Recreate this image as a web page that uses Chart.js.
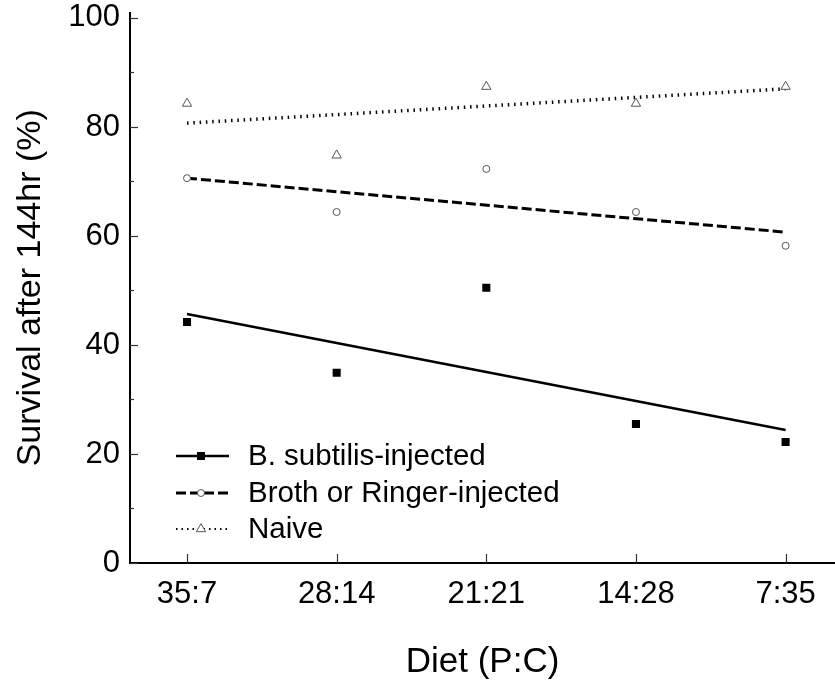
<!DOCTYPE html>
<html><head><meta charset="utf-8">
<script src="https://cdn.jsdelivr.net/npm/chart.js@4/dist/chart.umd.min.js"></script>
<style>html,body{margin:0;padding:0;background:#fff}#wrap{width:835px;height:686px}</style>
</head><body><div id="wrap"><canvas id="c" width="835" height="686"></canvas></div>
<script>
const categories = ['35:7', '28:14', '21:21', '14:28', '7:35'];
const seriesNames = ['B. subtilis-injected', 'Broth or Ringer-injected', 'Naive'];
const subtilis = [44.2, 34.9, 50.5, 25.5, 22.2];
const broth = [70.6, 64.4, 72.3, 64.4, 58.2];
const naive = [84.3, 74.8, 87.4, 84.3, 87.4];
const subtilisFit = [45.7, 24.4];
const brothFit = [70.6, 60.7];
const naiveFit = [80.7, 87.0];
const yTicks = [0, 20, 40, 60, 80, 100];
const yMinorTicks = [10, 30, 50, 70, 90];

const FONT = '"Liberation Sans", Arial, Helvetica, sans-serif';
const pts = arr => arr.map((v, i) => ({x: i + 1, y: v}));
const fit = arr => [{x: 1, y: arr[0]}, {x: categories.length, y: arr[1]}];

const markerStyles = [
  {pointStyle: 'rect', radius: 5.7, fill: '#000', stroke: '#000', bw: 0},
  {pointStyle: 'circle', radius: 3.5, fill: '#fff', stroke: '#555', bw: 1},
  {pointStyle: 'triangle', radius: 5.4, fill: '#fff', stroke: '#555', bw: 1}
];
const lineStyles = [
  {width: 2.5, dash: []},
  {width: 3, dash: [10, 4]},
  {width: 3.5, dash: [1.5, 4.8]}
];
const pointSeries = [subtilis, broth, naive];
const fitSeries = [subtilisFit, brothFit, naiveFit];

const datasets = [];
pointSeries.forEach((s, i) => {
  const m = markerStyles[i];
  datasets.push({
    type: 'scatter', label: seriesNames[i], data: pts(s), showLine: false,
    pointStyle: m.pointStyle, pointRadius: m.radius, pointBackgroundColor: m.fill,
    pointBorderColor: m.stroke, pointBorderWidth: m.bw, pointHoverRadius: m.radius
  });
});
fitSeries.forEach((f, i) => {
  const l = lineStyles[i];
  datasets.push({
    type: 'line', label: seriesNames[i] + ' fit', data: fit(f),
    borderColor: '#000', borderWidth: l.width, borderDash: l.dash, borderCapStyle: 'butt',
    pointRadius: 0, fill: false, tension: 0
  });
});

const tickPlugin = {
  id: 'inwardTicks',
  afterDraw(chart) {
    const ctx = chart.ctx, xs = chart.scales.x, ys = chart.scales.y;
    const ca = chart.chartArea;
    ctx.save();
    ctx.strokeStyle = '#333';
    ctx.lineWidth = 1.2;
    yTicks.forEach(v => {
      const y = Math.round(ys.getPixelForValue(v)) + 0.5;
      ctx.beginPath(); ctx.moveTo(ca.left, y); ctx.lineTo(ca.left + 8, y); ctx.stroke();
    });
    yMinorTicks.forEach(v => {
      const y = Math.round(ys.getPixelForValue(v)) + 0.5;
      ctx.beginPath(); ctx.moveTo(ca.left, y); ctx.lineTo(ca.left + 4, y); ctx.stroke();
    });
    categories.forEach((c, i) => {
      const x = Math.round(xs.getPixelForValue(i + 1)) + 0.5;
      ctx.beginPath(); ctx.moveTo(x, ca.bottom); ctx.lineTo(x, ca.bottom - 9); ctx.stroke();
    });
    ctx.restore();
  }
};

const legendPlugin = {
  id: 'lineLegend',
  afterDraw(chart) {
    const ctx = chart.ctx, ca = chart.chartArea;
    const x0 = ca.left + 46, x1 = ca.left + 99, mx = ca.left + 71, tx = ca.left + 118;
    const rowsY = [ca.bottom - 107, ca.bottom - 70, ca.bottom - 34];
    seriesNames.forEach((name, i) => {
      const y = rowsY[i], l = lineStyles[i], m = markerStyles[i];
      ctx.save();
      ctx.strokeStyle = '#000';
      ctx.lineWidth = i === 2 ? 2 : l.width;
      ctx.setLineDash(i === 2 ? [1.5, 4] : l.dash);
      ctx.beginPath(); ctx.moveTo(x0, y); ctx.lineTo(x1, y); ctx.stroke();
      ctx.setLineDash([]);
      ctx.fillStyle = m.fill; ctx.strokeStyle = m.stroke; ctx.lineWidth = m.bw;
      Chart.helpers.drawPoint(ctx, {pointStyle: m.pointStyle, radius: m.radius, borderWidth: m.bw, rotation: 0}, mx, y);
      ctx.fillStyle = '#000';
      ctx.font = '29.5px ' + FONT;
      ctx.textAlign = 'left'; ctx.textBaseline = 'middle';
      ctx.fillText(name, tx, y + 1);
      ctx.restore();
    });
  }
};

const zeroPad = s => { s.paddingLeft = 0; s.paddingRight = 0; s.paddingTop = 0; s.paddingBottom = 0; };

new Chart(document.getElementById('c'), {
  data: {datasets},
  options: {
    responsive: false, animation: false, devicePixelRatio: 1,
    layout: {autoPadding: false, padding: {top: 12.5, left: 0, right: 0, bottom: 0}},
    plugins: {legend: {display: false}, tooltip: {enabled: false}},
    scales: {
      x: {
        type: 'linear', position: 'bottom', min: 0.619, max: 5.33,
        afterBuildTicks: s => { s.ticks = categories.map((c, i) => ({value: i + 1})); },
        afterFit: s => { s.height = 123; zeroPad(s); },
        ticks: {
          callback: v => categories[Math.round(v) - 1], autoSkip: false, maxRotation: 0,
          color: '#000', padding: 16, font: {family: FONT, size: 31, lineHeight: 1}
        },
        grid: {display: false, drawTicks: false},
        border: {display: true, color: '#000', width: 2},
        title: {display: true, text: 'Diet (P:C)', color: '#000', font: {family: FONT, size: 35}, padding: {top: 0, bottom: 3}}
      },
      y: {
        type: 'linear', position: 'left', min: 0, max: 101,
        afterBuildTicks: s => { s.ticks = yTicks.map(v => ({value: v})); },
        afterFit: s => { s.width = 130; zeroPad(s); },
        ticks: {color: '#000', padding: 10, font: {family: FONT, size: 31, lineHeight: 1}},
        grid: {display: false, drawTicks: false},
        border: {display: true, color: '#000', width: 2},
        title: {display: true, text: 'Survival after 144hr (%)', color: '#000', font: {family: FONT, size: 34}, padding: {top: 10, bottom: 0}}
      }
    }
  },
  plugins: [tickPlugin, legendPlugin]
});
</script></body></html>
